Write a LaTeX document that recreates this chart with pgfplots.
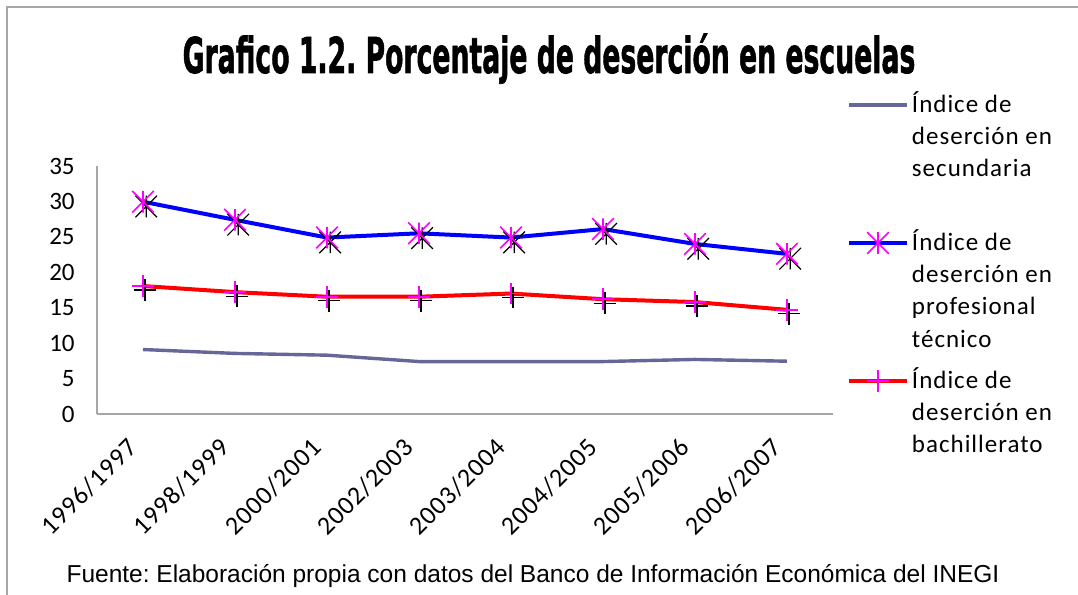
\documentclass[border=0pt]{standalone}
\usepackage{pgfplots}
\pgfplotsset{compat=1.18}
\usepackage{fontspec}
\setmainfont{Carlito}
\newfontfamily\titlefont{DejaVu Sans}[FakeBold=1.5]
\newfontfamily\footfont{Liberation Sans}
\newfontfamily\legfont{Carlito}[LetterSpace=4]
\definecolor{secc}{RGB}{102,102,153}
\definecolor{mag}{RGB}{255,0,255}
\pgfdeclareplotmark{xstar}{%
  \pgfpathmoveto{\pgfqpoint{0pt}{\pgfplotmarksize}}%
  \pgfpathlineto{\pgfqpoint{0pt}{-\pgfplotmarksize}}%
  \pgfpathmoveto{\pgfqpoint{\pgfplotmarksize}{\pgfplotmarksize}}%
  \pgfpathlineto{\pgfqpoint{-\pgfplotmarksize}{-\pgfplotmarksize}}%
  \pgfpathmoveto{\pgfqpoint{-\pgfplotmarksize}{\pgfplotmarksize}}%
  \pgfpathlineto{\pgfqpoint{\pgfplotmarksize}{-\pgfplotmarksize}}%
  \pgfusepathqstroke}
\begin{document}
\frenchspacing
\begin{tikzpicture}
\useasboundingbox (0,0) rectangle (539pt,297.5pt);
\fill[white] (0,0) rectangle (539pt,297.5pt);
\draw[gray!70, line width=0.8pt] (3.5pt,0) -- (3.5pt,294pt) -- (539pt,294pt);
\node[anchor=base, inner sep=0pt] at (274.5pt,261pt)
  {\scalebox{0.54}[1]{\titlefont\bfseries\fontsize{24.7}{28}\selectfont Grafico 1.2. Porcentaje de deserción en escuelas}};
\node[anchor=base, inner sep=0pt] at (266.5pt,6pt)
  {\footfont\fontsize{12.25}{14}\selectfont Fuente: Elaboración propia con datos del Banco de Información Económica del INEGI};
\begin{axis}[
  at={(48.5pt,90.5pt)}, anchor=south west,
  scale only axis, width=368pt, height=124pt,
  xmin=-0.5, xmax=7.5, ymin=0, ymax=35,
  xtick={0,...,7},
  xticklabels={1996/1997,1998/1999,2000/2001,2002/2003,2003/2004,2004/2005,2005/2006,2006/2007},
  ytick={0,5,...,35},
  axis x line*=bottom, axis y line*=left,
  axis line style={draw=gray!70, line width=0.7pt, -},
  major tick length=0pt,
  tick label style={font=\fontsize{12.5}{15}\selectfont},
  /pgf/number format/assume math mode=true,
  yticklabel style={anchor=east, inner sep=0pt, xshift=-11pt},
  xticklabel style={xshift=-8.5pt, yshift=-11pt, rotate=45, anchor=north east, inner sep=0pt, font=\legfont\fontsize{13}{15}\selectfont},
  clip=false,
  legend style={at={(1.01902,1.2984)}, anchor=north west, draw=none, fill=none,
    inner sep=0pt, outer sep=0pt, row sep=0pt, column sep=1.5pt,
    font=\legfont\fontsize{12.5}{16.2}\selectfont,
    cells={anchor=base west},
    nodes={inner sep=0pt, outer sep=0pt, text height=10pt, text depth=59pt}},
  legend image code/.code={\draw[mark repeat=2, mark phase=2, #1] plot coordinates {(0pt,3.5pt) (14.5pt,3.5pt) (29pt,3.5pt)};},
]
% black shadow marks
\addplot[only marks, mark=xstar, mark size=5.4pt, mark options={draw=black, line width=0.6pt, xshift=1.6pt, yshift=-2.4pt}, forget plot]
  coordinates {(0,29.96) (1,27.4) (2,24.9) (3,25.5) (4,24.9) (5,26.1) (6,24.0) (7,22.6)};
\addplot[only marks, mark=+, mark size=5.4pt, mark options={draw=black, line width=0.6pt, xshift=1pt, yshift=-2pt}, forget plot]
  coordinates {(0,18.06) (1,17.2) (2,16.55) (3,16.55) (4,17.0) (5,16.2) (6,15.8) (7,14.7)};
% series
\addplot[secc, line width=1.7pt, no marks]
  coordinates {(0,9.1) (1,8.55) (2,8.3) (3,7.4) (4,7.4) (5,7.4) (6,7.7) (7,7.45)};
\addlegendentry{\parbox[t]{100pt}{\raggedright Índice de\\deserción en\\secundaria}}
\addplot[blue, line width=2pt, mark=xstar, mark size=5.4pt, mark options={draw=mag, line width=0.8pt}]
  coordinates {(0,29.96) (1,27.4) (2,24.9) (3,25.5) (4,24.9) (5,26.1) (6,24.0) (7,22.6)};
\addlegendentry{\parbox[t]{100pt}{\raggedright Índice de\\deserción en\\profesional\\técnico}}
\addplot[red, line width=2pt, mark=+, mark size=5.4pt, mark options={draw=mag, line width=0.8pt}]
  coordinates {(0,18.06) (1,17.2) (2,16.55) (3,16.55) (4,17.0) (5,16.2) (6,15.8) (7,14.7)};
\addlegendentry{\parbox[t]{100pt}{\raggedright Índice de\\deserción en\\bachillerato}}
\end{axis}
\end{tikzpicture}
\end{document}
